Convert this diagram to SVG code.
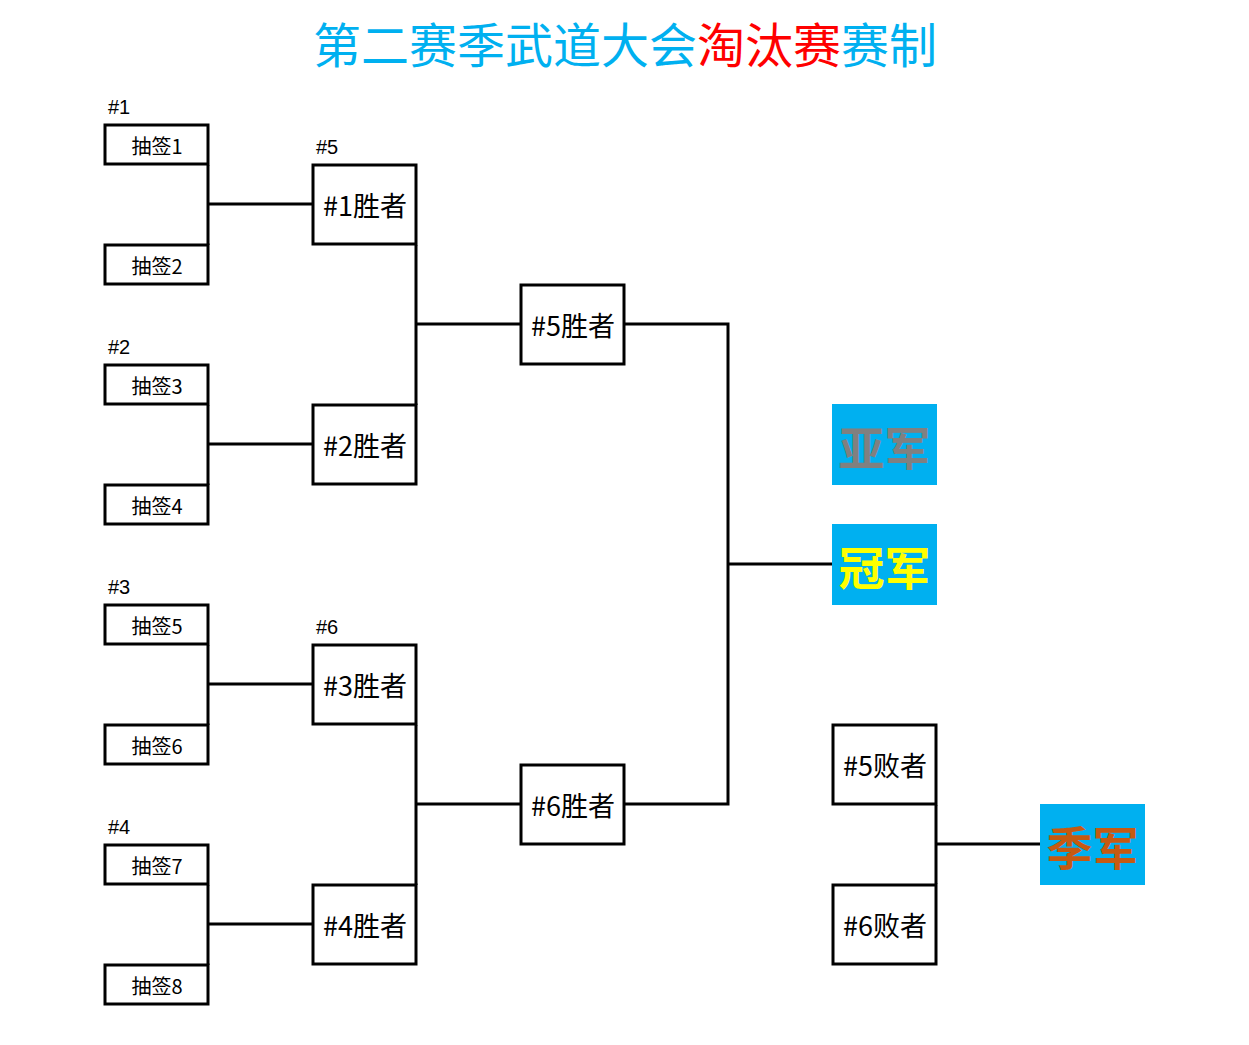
<svg xmlns="http://www.w3.org/2000/svg" width="1249" height="1045" viewBox="0 0 1249 1045">
<style>
text{font-family:"Noto Sans CJK SC","Liberation Sans",sans-serif;}
.b{fill:#fff;stroke:#000;stroke-width:3;}
.s{font-size:20px;fill:#000;text-anchor:middle;}
.m{font-size:27px;fill:#000;text-anchor:middle;}
.l{font-size:20px;fill:#000;font-family:"Liberation Sans",sans-serif;}
.c{fill:none;stroke:#000;stroke-width:3;}
.medal{fill:#00B0F0;}
.mt{font-size:46px;font-weight:bold;text-anchor:middle;}
</style>
<rect width="1249" height="1045" fill="#fff"/>
<text x="625" y="63" text-anchor="middle" font-size="48" fill="#00B0F0">第二赛季武道大会<tspan fill="#FF0000">淘汰赛</tspan>赛制</text>
<g id="connectors">
<path class="c" d="M208 165V245M208 204H313"/>
<path class="c" d="M208 405V485M208 444H313"/>
<path class="c" d="M208 645V725M208 684H313"/>
<path class="c" d="M208 885V965M208 924H313"/>
<path class="c" d="M416 245V405M416 324H521"/>
<path class="c" d="M416 725V885M416 804H521"/>
<path class="c" d="M624 324H728V804H624M728 564H832"/>
<path class="c" d="M936 805V884M936 844H1041"/>
</g>
<g id="labels">
<text class="l" x="108" y="114">#1</text>
<text class="l" x="108" y="354">#2</text>
<text class="l" x="108" y="594">#3</text>
<text class="l" x="108" y="834">#4</text>
<text class="l" x="316" y="154">#5</text>
<text class="l" x="316" y="634">#6</text>
</g>
<g id="draw1"><rect class="b" x="105" y="125" width="103" height="39"/><text class="s" x="157" y="154">抽签1</text></g>
<g id="draw2"><rect class="b" x="105" y="245" width="103" height="39"/><text class="s" x="157" y="274">抽签2</text></g>
<g id="draw3"><rect class="b" x="105" y="365" width="103" height="39"/><text class="s" x="157" y="394">抽签3</text></g>
<g id="draw4"><rect class="b" x="105" y="485" width="103" height="39"/><text class="s" x="157" y="514">抽签4</text></g>
<g id="draw5"><rect class="b" x="105" y="605" width="103" height="39"/><text class="s" x="157" y="634">抽签5</text></g>
<g id="draw6"><rect class="b" x="105" y="725" width="103" height="39"/><text class="s" x="157" y="754">抽签6</text></g>
<g id="draw7"><rect class="b" x="105" y="845" width="103" height="39"/><text class="s" x="157" y="874">抽签7</text></g>
<g id="draw8"><rect class="b" x="105" y="965" width="103" height="39"/><text class="s" x="157" y="994">抽签8</text></g>
<g id="w1"><rect class="b" x="313" y="165" width="103" height="79"/><text class="m" x="365" y="216">#1胜者</text></g>
<g id="w2"><rect class="b" x="313" y="405" width="103" height="79"/><text class="m" x="365" y="456">#2胜者</text></g>
<g id="w3"><rect class="b" x="313" y="645" width="103" height="79"/><text class="m" x="365" y="696">#3胜者</text></g>
<g id="w4"><rect class="b" x="313" y="885" width="103" height="79"/><text class="m" x="365" y="936">#4胜者</text></g>
<g id="w5"><rect class="b" x="521" y="285" width="103" height="79"/><text class="m" x="573" y="336">#5胜者</text></g>
<g id="w6"><rect class="b" x="521" y="765" width="103" height="79"/><text class="m" x="573" y="816">#6胜者</text></g>
<g id="l5"><rect class="b" x="833" y="725" width="103" height="79"/><text class="m" x="885" y="776">#5败者</text></g>
<g id="l6"><rect class="b" x="833" y="885" width="103" height="79"/><text class="m" x="885" y="936">#6败者</text></g>
<g id="silver"><rect class="medal" x="832" y="404" width="105" height="81"/><text class="mt" x="884.5" y="465" fill="#808080">亚军</text></g>
<g id="gold"><rect class="medal" x="832" y="524" width="105" height="81"/><text class="mt" x="884.5" y="585" fill="#FFFF00">冠军</text></g>
<g id="bronze"><rect class="medal" x="1040" y="804" width="105" height="81"/><text class="mt" x="1092.5" y="865" fill="#C55A11">季军</text></g>
</svg>
